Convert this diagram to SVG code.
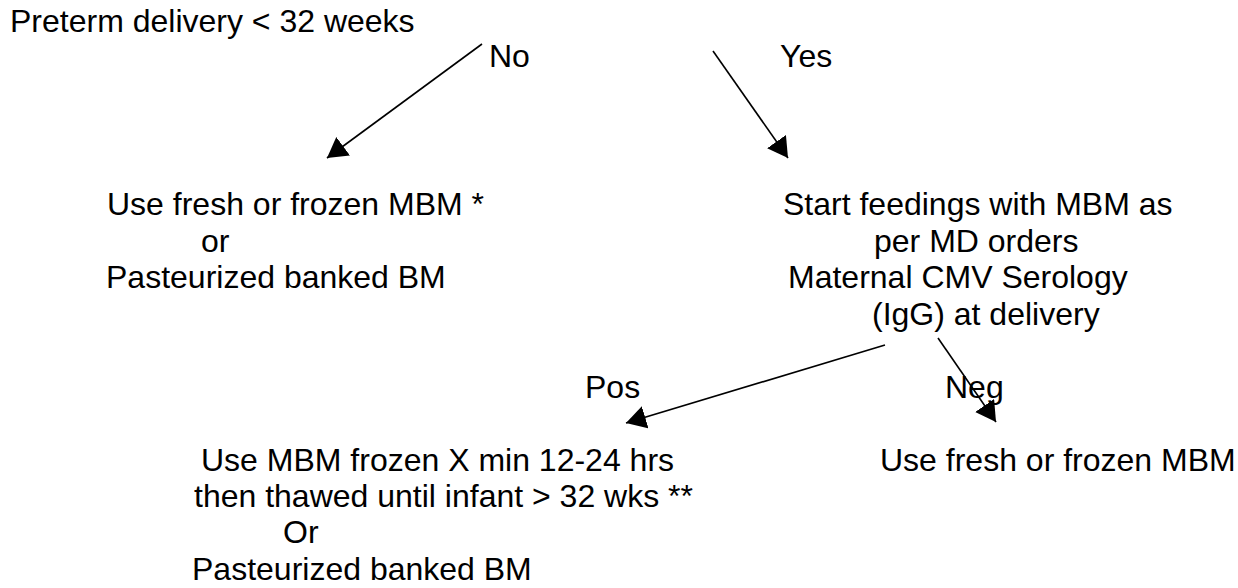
<svg xmlns="http://www.w3.org/2000/svg" width="1238" height="588" viewBox="0 0 1238 588">
  <style>
    text { font-family: "Liberation Sans", Arial, sans-serif; font-size: 32px; fill: #000; }
    .conn { stroke: #000; stroke-width: 1.6; fill: none; marker-end: url(#arrow); }
  </style>
  <defs>
    <marker id="arrow" markerUnits="userSpaceOnUse" markerWidth="22" markerHeight="24" refX="20" refY="11.5" orient="auto">
      <path d="M0,0 L20,11.5 L0,23 z" fill="#000"/>
    </marker>
  </defs>
  <rect width="1238" height="588" fill="#fff"/>

  <g id="connectors">
    <line class="conn" x1="482" y1="44" x2="327" y2="158"/>
    <line class="conn" x1="713" y1="51" x2="788" y2="158"/>
    <line class="conn" x1="885" y1="345" x2="626" y2="423"/>
    <line class="conn" x1="938" y1="338" x2="996" y2="422"/>
  </g>

  <g id="labels">
    <text x="489" y="67">No</text>
    <text x="780" y="67">Yes</text>
    <text x="585" y="398">Pos</text>
    <text x="945" y="398">Neg</text>
  </g>

  <g id="start">
    <text x="10" y="32">Preterm delivery &lt; 32 weeks</text>
  </g>

  <g id="no-branch">
    <text x="107" y="215">Use fresh or frozen MBM *</text>
    <text x="201" y="252">or</text>
    <text x="106" y="288">Pasteurized banked BM</text>
  </g>

  <g id="yes-branch">
    <text x="783" y="215">Start feedings with MBM as</text>
    <text x="874" y="252">per MD orders</text>
    <text x="788" y="288">Maternal CMV Serology</text>
    <text x="872" y="325">(IgG) at delivery</text>
  </g>

  <g id="pos-branch">
    <text x="201" y="471">Use MBM frozen X min 12-24 hrs</text>
    <text x="194" y="507">then thawed until infant &gt; 32 wks **</text>
    <text x="283" y="543">Or</text>
    <text x="192" y="580">Pasteurized banked BM</text>
  </g>

  <g id="neg-branch">
    <text x="880" y="471">Use fresh or frozen MBM</text>
  </g>
</svg>
